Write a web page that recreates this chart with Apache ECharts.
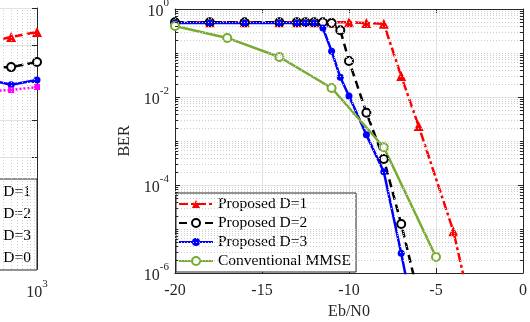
<!DOCTYPE html>
<html>
<head>
<meta charset="utf-8">
<script src="https://cdn.jsdelivr.net/npm/echarts@6/dist/echarts.min.js"></script>
<style>
  html, body { margin: 0; padding: 0; background: #fff; }
  #chart { width: 530px; height: 322px; }
</style>
</head>
<body>
<div id="chart"></div>
<script>
// right panel: BER vs Eb/N0
const ebnoD1 = [-20, -18, -16, -14, -13, -12, -11, -10, -9, -8, -7, -6, -4, -3];
const berD1 = [0.5, 0.5, 0.5, 0.5, 0.5, 0.5, 0.5, 0.5, 0.48, 0.46, 0.03, 0.0022, 8.9e-6, 1.6e-7];
const ebnoD2 = [-20, -18, -16, -14, -13, -12.5, -12, -11.5, -11, -10.5, -10, -9, -8, -7, -6];
const berD2 = [0.5, 0.5, 0.5, 0.5, 0.5, 0.5, 0.5, 0.5, 0.48, 0.33, 0.066, 0.0044, 3.9e-4, 1.3e-5, 3e-7];
const ebnoD3 = [-20, -18, -16, -14, -13, -12.5, -12, -11.5, -11, -10.5, -10, -9, -8, -7, -6];
const berD3 = [0.48, 0.48, 0.48, 0.48, 0.48, 0.48, 0.48, 0.37, 0.11, 0.028, 0.0105, 0.00138, 2.0e-4, 2.8e-6, 3e-8];
const ebnoMmse = [-20, -17, -14, -11, -8, -5];
const berMmse = [0.41, 0.22, 0.081, 0.016, 7.2e-4, 2.3e-6];

// left panel (mostly cut off by the crop)
const leftX = [200, 400, 1000];
const leftD1 = [0.126, 0.167, 0.227];
const leftD2 = [0.025, 0.026, 0.0356];
const leftD3 = [0.0115, 0.0087, 0.0117];
const leftD0 = [0.006, 0.0063, 0.0076];

const names = ["Proposed D=1", "Proposed D=2", "Proposed D=3", "Conventional MMSE"];
const leftNames = ["Proposed, D=1", "Proposed, D=2", "Proposed, D=3", "Proposed, D=0"];

const FONT = "Liberation Serif";
const AXIS = "#262626";
const GRID = "#e2e2e2";
const MINOR = "#cdcdcd";

const zip = (xs, ys) => xs.map((x, i) => [x, ys[i]]);

// minor grid of the log axes, placed on hidden linear axes in log10 units
const minorY = [];
const minorTicks = [];
for (let k = -6; k < 0; k++) {
  for (let m = 1; m <= 9; m++) {
    if (m === 1 && k % 2 === 0) continue;
    const v = k + Math.log10(m);
    minorY.push({ yAxis: v });
    minorTicks.push([{ coord: [-20, v] }, { coord: [-19.82, v] }]);
    minorTicks.push([{ coord: [-0.18, v] }, { coord: [0, v] }]);
  }
}
const leftMinorX = [];
for (let m = 2; m <= 9; m++) leftMinorX.push({ xAxis: 2 + Math.log10(m) });

const powLabel = (v) => {
  const e = Math.round(Math.log10(v));
  return "{b|10}{s|" + e + "}";
};
const powRich = {
  b: { fontFamily: FONT, fontSize: 16, color: AXIS, verticalAlign: "bottom", lineHeight: 22 },
  s: { fontFamily: FONT, fontSize: 11, color: AXIS, verticalAlign: "top", lineHeight: 22 },
};

const chart = echarts.init(document.getElementById("chart"));

const option = {
  animation: false,
  grid: [
    { left: 175, right: 7, top: 9, bottom: 49, outerBoundsMode: "none" },
    { left: -93, width: 130, top: 8, bottom: 53, outerBoundsMode: "none" },
  ],
  xAxis: [
    {
      type: "value", gridIndex: 0, min: -20, max: 0, interval: 5,
      axisLine: { onZero: false, lineStyle: { color: AXIS } },
      axisTick: { inside: true, length: 5, lineStyle: { color: AXIS } },
      axisLabel: { fontFamily: FONT, fontSize: 16, color: AXIS, margin: 10 },
      splitLine: { show: true, lineStyle: { color: GRID } },
      name: "Eb/N0", nameLocation: "middle", nameGap: 31,
      nameTextStyle: { fontFamily: FONT, fontSize: 16, color: AXIS },
    },
    {
      type: "value", gridIndex: 0, min: -20, max: 0, interval: 5, position: "top",
      axisLine: { onZero: false, lineStyle: { color: AXIS } },
      axisTick: { inside: true, length: 5, lineStyle: { color: AXIS } },
      axisLabel: { show: false }, splitLine: { show: false },
    },
    {
      type: "log", gridIndex: 1, min: 10, max: 1000,
      axisLine: { onZero: false, lineStyle: { color: AXIS } },
      axisTick: { inside: true, length: 5, lineStyle: { color: AXIS } },
      axisLabel: { formatter: powLabel, rich: powRich, margin: 10 },
      splitLine: { show: false },
    },
    { type: "value", gridIndex: 1, min: 1, max: 3, show: false },
  ],
  yAxis: [
    {
      type: "log", gridIndex: 0, min: 1e-6, max: 1, interval: 2,
      axisLine: { onZero: false, lineStyle: { color: AXIS } },
      axisTick: { inside: true, length: 5, lineStyle: { color: AXIS } },
      axisLabel: { formatter: powLabel, rich: powRich, margin: 6 },
      splitLine: { show: true, lineStyle: { color: GRID } },
      name: "BER", nameLocation: "middle", nameGap: 40,
      nameTextStyle: { fontFamily: FONT, fontSize: 16, color: AXIS },
    },
    {
      type: "log", gridIndex: 0, min: 1e-6, max: 1, interval: 2, position: "right",
      axisLine: { onZero: false, lineStyle: { color: AXIS } },
      axisTick: { inside: true, length: 5, lineStyle: { color: AXIS } },
      axisLabel: { show: false }, splitLine: { show: false },
    },
    {
      type: "log", gridIndex: 1, min: 1e-7, max: 1, position: "right",
      axisLine: { onZero: false, lineStyle: { color: AXIS } },
      axisTick: { inside: true, length: 5, lineStyle: { color: AXIS } },
      axisLabel: { show: false },
      splitLine: { show: true, lineStyle: { color: GRID } },
    },
    { type: "value", gridIndex: 0, min: -6, max: 0, show: false },
  ],
  legend: [
    {
      data: names, orient: "vertical", left: 176, top: 193,
      itemWidth: 34, itemHeight: 10, itemGap: 3,
      padding: [3, 5, 3, 2],
      borderColor: AXIS, borderWidth: 1, backgroundColor: "#fff",
      textStyle: { fontFamily: FONT, fontSize: 15.5, color: "#000" },
    },
    {
      data: leftNames, orient: "vertical", right: 493, top: 179,
      itemWidth: 34, itemHeight: 10, itemGap: 6,
      padding: [5, 6, 4, 2],
      borderColor: AXIS, borderWidth: 1, backgroundColor: "#fff",
      textStyle: { fontFamily: FONT, fontSize: 15.5, color: "#000" },
    },
  ],
  series: [
    {
      name: "minor grid", type: "line", xAxisIndex: 0, yAxisIndex: 3, data: [], silent: true, z: 1,
      markLine: {
        silent: true, symbol: "none", label: { show: false },
        lineStyle: { color: MINOR, type: [1, 2], width: 1 },
        emphasis: { disabled: true },
        data: minorY,
      },
    },
    {
      name: "minor ticks", type: "line", xAxisIndex: 0, yAxisIndex: 3, data: [], silent: true, z: 3,
      markLine: {
        silent: true, symbol: "none", label: { show: false },
        lineStyle: { color: AXIS, type: "solid", width: 1 },
        emphasis: { disabled: true },
        data: minorTicks,
      },
    },
    {
      name: "left minor grid", type: "line", xAxisIndex: 3, yAxisIndex: 2, data: [], silent: true, z: 1,
      markLine: {
        silent: true, symbol: "none", label: { show: false },
        lineStyle: { color: MINOR, type: [1, 2], width: 1 },
        emphasis: { disabled: true },
        data: leftMinorX,
      },
    },
    {
      name: names[0], type: "line", xAxisIndex: 0, yAxisIndex: 0,
      data: zip(ebnoD1, berD1),
      symbol: "triangle", symbolSize: 10,
      lineStyle: { color: "#ff0000", width: 2.5, type: [9, 3, 3, 3] },
      itemStyle: { color: "#ff0000" },
    },
    {
      name: names[1], type: "line", xAxisIndex: 0, yAxisIndex: 0,
      data: zip(ebnoD2, berD2),
      symbol: "circle", symbolSize: 8,
      lineStyle: { color: "#000", width: 2.5, type: [8, 5] },
      itemStyle: { color: "#fff", borderColor: "#000", borderWidth: 2 },
    },
    {
      name: names[2], type: "line", xAxisIndex: 0, yAxisIndex: 0,
      data: zip(ebnoD3, berD3),
      symbol: "circle", symbolSize: 7,
      lineStyle: { color: "#0000ff", width: 2.5 },
      itemStyle: { color: "#0000ff" },
    },
    {
      name: names[3], type: "line", xAxisIndex: 0, yAxisIndex: 0,
      data: zip(ebnoMmse, berMmse),
      symbol: "circle", symbolSize: 8,
      lineStyle: { color: "#77ac30", width: 2.5 },
      itemStyle: { color: "#fff", borderColor: "#77ac30", borderWidth: 2 },
    },
    {
      name: leftNames[0], type: "line", xAxisIndex: 2, yAxisIndex: 2,
      data: zip(leftX, leftD1), symbol: "triangle", symbolSize: 10,
      lineStyle: { color: "#ff0000", width: 2.5, type: [8, 4] },
      itemStyle: { color: "#ff0000" },
    },
    {
      name: leftNames[1], type: "line", xAxisIndex: 2, yAxisIndex: 2,
      data: zip(leftX, leftD2), symbol: "circle", symbolSize: 8,
      lineStyle: { color: "#000", width: 2.5, type: [8, 4] },
      itemStyle: { color: "#fff", borderColor: "#000", borderWidth: 2 },
    },
    {
      name: leftNames[2], type: "line", xAxisIndex: 2, yAxisIndex: 2,
      data: zip(leftX, leftD3), symbol: "circle", symbolSize: 7,
      lineStyle: { color: "#0000ff", width: 2.5 },
      itemStyle: { color: "#0000ff" },
    },
    {
      name: leftNames[3], type: "line", xAxisIndex: 2, yAxisIndex: 2,
      data: zip(leftX, leftD0), symbol: "rect", symbolSize: 6,
      lineStyle: { color: "#ff00ff", width: 2.5, type: [2, 2] },
      itemStyle: { color: "#ff00ff" },
    },
  ],
};

chart.setOption(option);
</script>
</body>
</html>
